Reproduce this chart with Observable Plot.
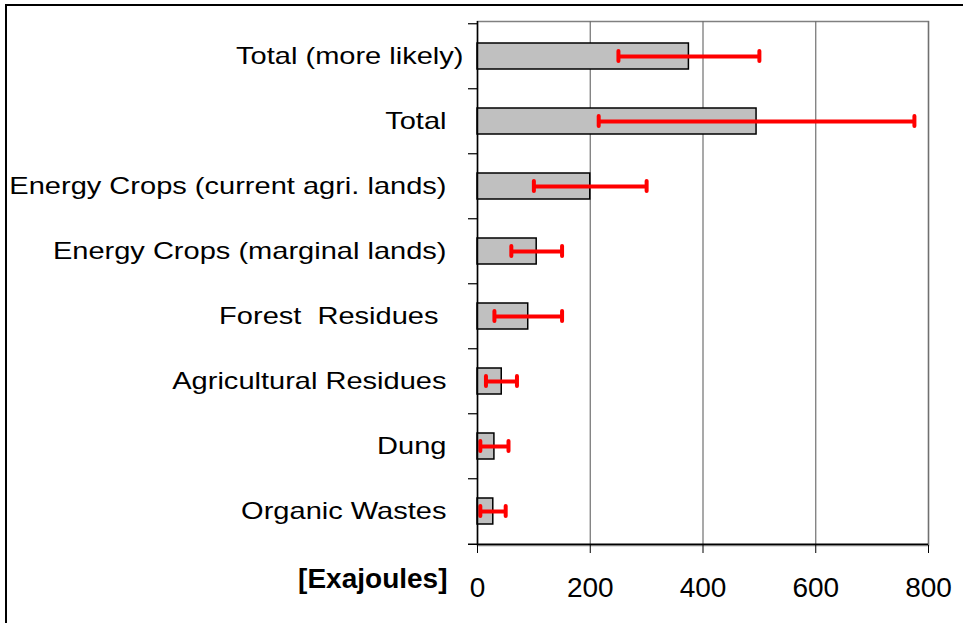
<!DOCTYPE html>
<html>
<head>
<meta charset="utf-8">
<script src="https://cdn.jsdelivr.net/npm/d3@7"></script>
<script src="https://cdn.jsdelivr.net/npm/@observablehq/plot@0.6"></script>
<style>
  html, body { margin: 0; padding: 0; background: #fff; overflow: hidden; }
  #wrap { position: relative; width: 963px; height: 623px; }
  #border { position: absolute; left: 5px; top: 4px; width: 1000px; height: 700px; border: 2px solid #000; box-sizing: border-box; pointer-events: none; }
  svg { font-family: "Liberation Sans", Arial, sans-serif; }
</style>
</head>
<body>
<div id="wrap"><div id="border"></div><div id="chart"></div></div>
<script>
const categories = [
  "Total (more likely)",
  "Total",
  "Energy Crops (current agri. lands)",
  "Energy Crops (marginal lands)",
  "Forest  Residues",
  "Agricultural Residues",
  "Dung",
  "Organic Wastes"
];
const values = [375, 495, 200, 105, 90, 43, 30, 28];
const lows   = [250, 215, 100, 60, 30, 15, 5, 5];
const highs  = [500, 775, 300, 150, 150, 70, 55, 50];
const xTicks = [0, 200, 400, 600, 800];
const xLabel = "[Exajoules]";

const data = categories.map((c, i) => ({cat: c, value: values[i], low: lows[i], high: highs[i]}));

const W = 963, H = 623;
const mTop = 21, mBottom = 78, mLeft = 477, mRight = 35;
const step = (H - mTop - mBottom) / categories.length;
const pxPerUnit = (W - mLeft - mRight) / 800;
const tickLen = 9 / pxPerUnit;
const catFs = 24, axisFs = 28, stretch = 1.21;

const labelMark = (filter, dx) => Plot.text(categories.filter(filter), {
  y: d => d, x: 0, text: d => d, textAnchor: "end", dx, fontSize: catFs, fill: "#000"
});

const chart = Plot.plot({
  width: W,
  height: H,
  marginTop: mTop,
  marginBottom: mBottom,
  marginLeft: mLeft,
  marginRight: mRight,
  style: {fontFamily: "Liberation Sans, Arial, sans-serif", background: "transparent", overflow: "visible"},
  x: {domain: [0, 800], ticks: xTicks, label: null},
  y: {domain: categories, paddingInner: 0.6, paddingOuter: 0.3, axis: null},
  marks: [
    Plot.frame({stroke: "#808080", strokeWidth: 1.5}),
    Plot.ruleX(xTicks.slice(1), {stroke: "#707070", strokeWidth: 1.2}),
    Plot.barX(data, {y: "cat", x: "value", fill: "#C0C0C0", stroke: "#000", strokeWidth: 1.5}),
    Plot.link(data, {y1: "cat", y2: "cat", x1: "low", x2: "high", stroke: "#FF0000", strokeWidth: 4}),
    Plot.tickX(data, {y: "cat", x: "low", stroke: "#FF0000", strokeWidth: 4, strokeLinecap: "round", insetTop: 8, insetBottom: 8}),
    Plot.tickX(data, {y: "cat", x: "high", stroke: "#FF0000", strokeWidth: 4, strokeLinecap: "round", insetTop: 8, insetBottom: 8}),
    Plot.ruleX([0], {stroke: "#000", strokeWidth: 1.5}),
    Plot.ruleY(categories, {y: d => d, x1: -tickLen, x2: 0, dy: -step / 2, stroke: "#000", strokeWidth: 1.2}),
    Plot.ruleY(categories.slice(-1), {y: d => d, x1: -tickLen, x2: 800, dy: step / 2, stroke: "#000", strokeWidth: 1.5}),
    Plot.axisX({ticks: xTicks, tickSize: 8, tickPadding: 24, fontSize: axisFs, stroke: "#000", label: null}),
    labelMark(c => c === "Total (more likely)", -14),
    labelMark(c => c !== "Total (more likely)" && c !== "Forest  Residues", -31),
    labelMark(c => c === "Forest  Residues", -39),
    Plot.text([xLabel], {text: d => d, frameAnchor: "bottom-left", textAnchor: "end", dx: -30, dy: 42, fontSize: axisFs, fontWeight: "bold", fill: "#000"})
  ]
});
const catSet = new Set(categories);
chart.querySelectorAll("text").forEach(t => {
  t.setAttribute("xml:space", "preserve");
  if (catSet.has(t.textContent)) {
    const tr = t.getAttribute("transform") || "";
    const x = +(t.getAttribute("x") || 0);
    t.setAttribute("transform", `${tr} translate(${x},0) scale(${stretch},1) translate(${-x},0)`);
  }
});
document.getElementById("chart").appendChild(chart);
</script>
</body>
</html>
